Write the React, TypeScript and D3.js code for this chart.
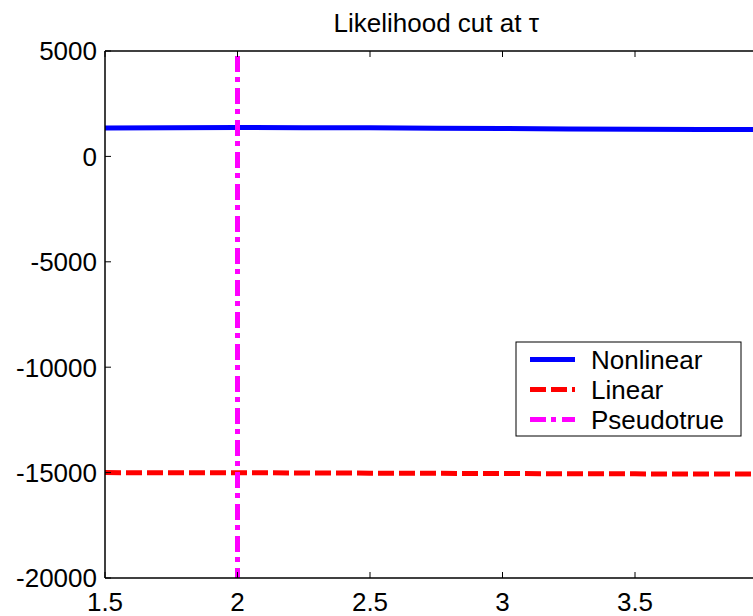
import React from "react";
import * as d3 from "d3";

// Likelihood cut values along tau
const tauGrid = [1.5, 1.75, 2, 2.25, 2.5, 2.75, 3, 3.25, 3.5, 3.75, 4];
const nonlinearLik = [1350, 1365, 1370, 1365, 1355, 1340, 1320, 1305, 1290, 1280, 1270];
const linearLik = [-15000, -15005, -15010, -15015, -15025, -15035, -15045, -15055, -15060, -15065, -15070];
const pseudotrueTau = 2;

const xTicks = [1.5, 2, 2.5, 3, 3.5];
const yTicks = [5000, 0, -5000, -10000, -15000, -20000];

const legendItems = [
  { label: "Nonlinear", color: "#0000ff", dash: "none" },
  { label: "Linear", color: "#ff0000", dash: "16,5" },
  { label: "Pseudotrue", color: "#ff00ff", dash: "16,5,5,6" },
];

const W = 753;
const H = 616;
const FONT = "'Liberation Sans', Arial, Helvetica, sans-serif";
const FS = 26;

export default function App() {
  const left = 105;
  const right = 767.5;
  const top = 51;
  const bottom = 578;

  const x = d3.scaleLinear().domain([1.5, 4]).range([left, right]);
  const y = d3.scaleLinear().domain([-20000, 5000]).range([bottom, top]);

  const line = d3
    .line<number>()
    .x((_, i) => x(tauGrid[i]))
    .y((d) => y(d));

  const tickLen = 6;

  const lgX = 516;
  const lgY = 342;
  const lgW = 225;
  const lgH = 94;

  return (
    <svg
      width={W}
      height={H}
      style={{ position: "absolute", left: 0, top: 0, background: "#fff" }}
      fontFamily={FONT}
    >
      <rect x={0} y={0} width={W} height={H} fill="#fff" />
      <defs>
        <clipPath id="plotClip">
          <rect x={left} y={top} width={right - left} height={bottom - top} />
        </clipPath>
      </defs>

      <g clipPath="url(#plotClip)">
        <path d={line(linearLik) || ""} fill="none" stroke="#ff0000" strokeWidth={5} strokeDasharray="16,5" />
        <path d={line(nonlinearLik) || ""} fill="none" stroke="#0000ff" strokeWidth={5} />
        <line
          x1={x(pseudotrueTau)}
          x2={x(pseudotrueTau)}
          y1={top + 5}
          y2={bottom}
          stroke="#ff00ff"
          strokeWidth={5}
          strokeDasharray="16,5,5,6"
        />
      </g>

      {/* axes frame */}
      <line x1={left} x2={left} y1={top} y2={bottom} stroke="#000" strokeWidth={1.5} />
      <line x1={left} x2={right} y1={top} y2={top} stroke="#000" strokeWidth={1.5} />
      <line x1={left} x2={right} y1={bottom} y2={bottom} stroke="#000" strokeWidth={1.5} />
      <line x1={right} x2={right} y1={top} y2={bottom} stroke="#000" strokeWidth={1.5} />

      {xTicks.map((t) => (
        <g key={"x" + t}>
          <line x1={x(t)} x2={x(t)} y1={bottom} y2={bottom - tickLen} stroke="#000" strokeWidth={1} />
          <line x1={x(t)} x2={x(t)} y1={top} y2={top + tickLen} stroke="#000" strokeWidth={1} />
          <text x={x(t)} y={611} textAnchor="middle" fontSize={FS} fill="#000">
            {String(t)}
          </text>
        </g>
      ))}

      {yTicks.map((t) => (
        <g key={"y" + t}>
          <line x1={left} x2={left + tickLen} y1={y(t)} y2={y(t)} stroke="#000" strokeWidth={1} />
          <text x={97} y={y(t) + 9.3} textAnchor="end" fontSize={FS} fill="#000">
            {String(t)}
          </text>
        </g>
      ))}

      <text x={(left + right) / 2} y={32} textAnchor="middle" fontSize={FS} fill="#000">
        Likelihood cut at τ
      </text>

      {/* legend */}
      <rect x={lgX} y={lgY} width={lgW} height={lgH} fill="#fff" stroke="#000" strokeWidth={1} />
      {legendItems.map((it, i) => {
        const cy = lgY + 17.5 + i * 30;
        return (
          <g key={it.label}>
            <line
              x1={530}
              x2={575}
              y1={cy}
              y2={cy}
              stroke={it.color}
              strokeWidth={5}
              strokeDasharray={it.dash}
            />
            <text x={591} y={cy + 9} fontSize={FS} fill="#000">
              {it.label}
            </text>
          </g>
        );
      })}
    </svg>
  );
}
